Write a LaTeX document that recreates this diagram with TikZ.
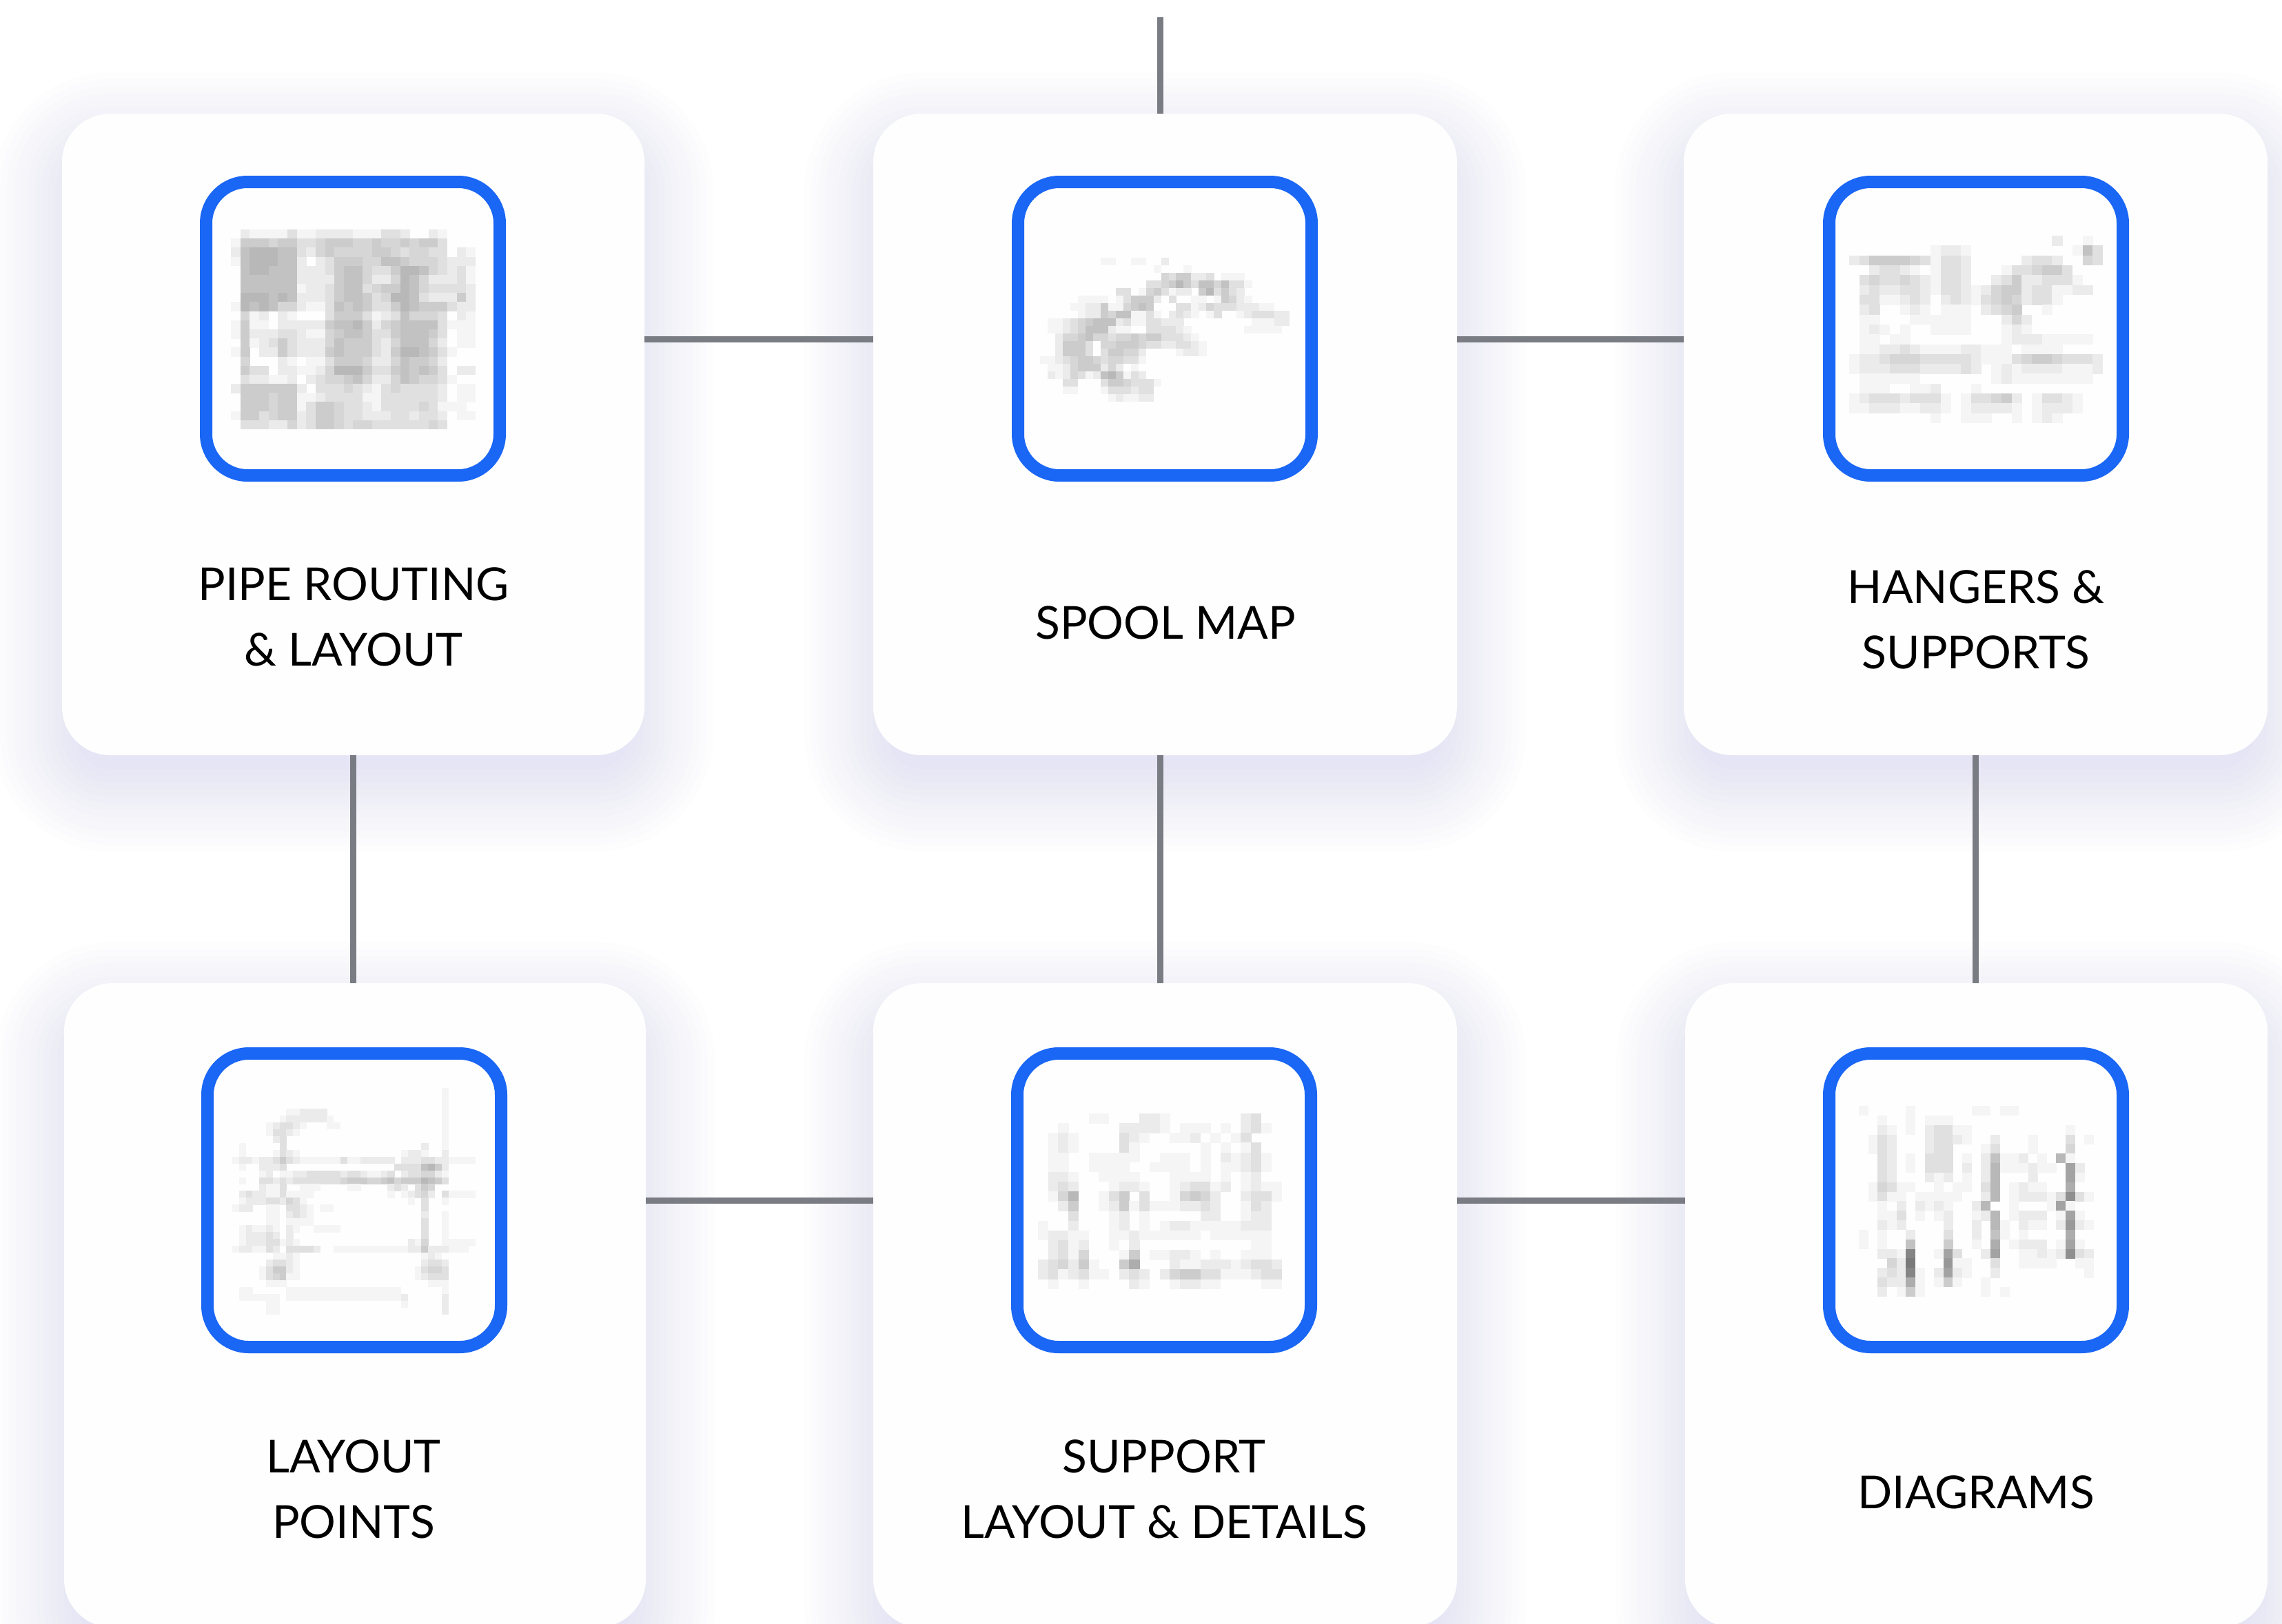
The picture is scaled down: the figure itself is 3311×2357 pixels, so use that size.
\documentclass[tikz,border=0pt]{standalone}
\usepackage{fontspec}
\setmainfont{Lato}
\usetikzlibrary{calc}
\definecolor{cardfill}{HTML}{FEFEFE}
\definecolor{iconblue}{HTML}{1A66F5}
\definecolor{linegray}{HTML}{7A7C84}
\tikzset{
  cardbox/.style={shape=rectangle,fill=cardfill,draw=none,rounded corners=35pt,inner sep=0pt,outer sep=0pt},
  iconbox/.style={shape=rectangle,draw=iconblue,line width=9pt,rounded corners=30pt,inner sep=0pt,outer sep=0pt,minimum width=213pt,minimum height=213pt},
  conn/.style={draw=linegray,line width=4.5pt},
  lbl/.style={align=center,inner sep=0pt,text=black,font=\fontsize{33}{47.5}\selectfont}
}
\newcount\tbx
\def\tbcell#1{\ifx#1;\else
  \ifnum"#1>0 \fill[black!\the\numexpr"#1*4\relax] ({\tbxo+\the\tbx*\tbcw},{\tbyo+\tbj*\tbch}) rectangle ({\tbxo+(\the\tbx+1)*\tbcw+0.4},{\tbyo+(\tbj+1)*\tbch+0.4});\fi
  \advance\tbx by 1 \expandafter\tbcell\fi}
\def\thumbgrid#1#2#3#4#5{\def\tbxo{#1}\def\tbyo{#2}\def\tbcw{#3}\def\tbch{#4}%
  \foreach \rowstr [count=\tbj from 0] in {#5}{\tbx=0 \expandafter\tbcell\rowstr;}}
\def\softshadow#1#2#3#4{%
  \foreach \sha in {0,...,12}{%
    \pgfmathsetmacro\she{100-\sha*10}%
    \pgfmathsetmacro\shr{max(5,(70+\she)/2)}%
    \fill[iconblue,opacity=0.008,rounded corners=\shr pt] ({#1-\she},{#2-\she+40}) rectangle ({#3+\she},{#4+\she+40});}}
\begin{document}
\begin{tikzpicture}[x=0.5pt,y=-0.5pt]
\clip (0,0) rectangle (3311,2357);
\fill[white] (0,0) rectangle (3311,2357);
% shadows
\softshadow{90}{165}{935}{1096}
\softshadow{1267}{165}{2114}{1096}
\softshadow{2443}{165}{3290}{1096}
\softshadow{93}{1427}{937}{2362}
\softshadow{1267}{1427}{2114}{2362}
\softshadow{2445}{1427}{3290}{2362}
% cards
\node[cardbox,minimum width=422.5pt,minimum height=465.5pt] (c1) at (512.5,630.5) {};
\node[cardbox,minimum width=423.5pt,minimum height=465.5pt] (c2) at (1690.5,630.5) {};
\node[cardbox,minimum width=423.5pt,minimum height=465.5pt] (c3) at (2866.5,630.5) {};
\node[cardbox,minimum width=422pt,minimum height=467.5pt] (c4) at (515,1894.5) {};
\node[cardbox,minimum width=423.5pt,minimum height=467.5pt] (c5) at (1690.5,1894.5) {};
\node[cardbox,minimum width=422.5pt,minimum height=467.5pt] (c6) at (2867.5,1894.5) {};
% connectors
\coordinate (top) at (1683,25);
\coordinate (r1) at (0,492);
\coordinate (r2) at (0,1742);
\coordinate (v2) at (1683,0);
\draw[conn] (top) -- (top |- c2.north);
\draw[conn] (c1.east |- r1) -- (c2.west |- r1);
\draw[conn] (c2.east |- r1) -- (c3.west |- r1);
\draw[conn] (c4.east |- r2) -- (c5.west |- r2);
\draw[conn] (c5.east |- r2) -- (c6.west |- r2);
\draw[conn] (c1.south) -- (c1.south |- c4.north);
\draw[conn] (v2 |- c2.south) -- (v2 |- c5.north);
\draw[conn] (c3.south) -- (c3.south |- c6.north);
% icons
\node[iconbox] (i1) at (512,477) {};
\node[iconbox] (i2) at (1690,477) {};
\node[iconbox] (i3) at (2867,477) {};
\node[iconbox] (i4) at (514,1742) {};
\node[iconbox] (i5) at (1689,1742) {};
\node[iconbox] (i6) at (2867,1742) {};
% thumbnails
\thumbgrid{335}{333}{13.65}{13.18}{%
02111131122221113320021000,%
15554553345554454454553000,%
26777663245444455434433021,%
16777662023555446654443222,%
06776662223566433577643231,%
06666662222566422476422231,%
06666661223566345576433332,%
07776762223566534776322252,%
17676442113656533576555322,%
04120210003555312364443021,%
15110222225667524566663111,%
15222332114566533566653011,%
05123532224655532466642011,%
15022532225655532577653100,%
04000210113555422465542000,%
05330221124777533565653022,%
03221120234456422465443100,%
25555552033343213433332011,%
05554551123333113333332011,%
05554551355433213333431110,%
15534552355433222332332011,%
03332242355434433333343000}
\thumbgrid{1509}{374}{10.97}{11}{%
000000001100110020000000000000000,%
000000000000000100010000000000000,%
000000000000000043552230111000000,%
000000000000003345753664633100000,%
000000000033014531220573532000000,%
000001111013555203001101542100000,%
000011225114565000331243332221100,%
000001225466113102321013001233322,%
011234566623113322200000000011122,%
011234666211003333210000000111110,%
002445644344545533321000000000000,%
002555304455543322332100000000000,%
002555303554420000122100000000000,%
112345543443310000000000000000000,%
011245552420100000000000000000000,%
021243126751320000000000000000000,%
000330003554333100000000000000000,%
000110001333233000000000000000000,%
000000000121122000000000000000000}
\thumbgrid{2683}{342}{14.72}{14.32}{%
0000000000000000000020010,%
0000000012210000000000163,%
2355554313320000023320043,%
0023321013320001334553000,%
0343343213320023522333100,%
0232233213321245523311220,%
0331123202321345423310000,%
0230012101110234500100000,%
0110001111110002420000000,%
0121010011110001210000000,%
0110110000000001222111110,%
0112232111122111011110000,%
1223444333332111345543332,%
1222333222232012122221112,%
0111111000000012111111110,%
0111001120001000000000000,%
1233323331013345201332100,%
1122211221012222101222100,%
0000000010011100101210000}
\thumbgrid{337}{1579}{9.8}{9.96}{%
000000000000000000000000000000010000,%
000000000000000000000000000000010000,%
000000000000000000000000000000010000,%
000000001122220000000000000000010000,%
000000012222221000000000000000010000,%
000001233210001100000000000000010000,%
000001332100000000000000000000010000,%
000000230000000000000000000000010000,%
010000030000000000000000000020010000,%
010000132100000000000000012210020000,%
122122353211111131122222022233221111,%
010022230000000000000000333367520000,%
000012011223333323321123023344210000,%
010033232333333345554456455576530000,%
000021130011100001100002320354000000,%
023221131111000000000001012342031111,%
012223324310000000000000001030010000,%
122001103321011000000000000030000000,%
000001102321000000000000000020010000,%
000001101111000000000000000030010000,%
012112102100111100000000000030010000,%
012223202000000000000000000030010000,%
012223312100000000000000002140011111,%
122113203333200111111111112252221110,%
000000112100000000000000000012100000,%
000002332100000000000000000023320000,%
000013552100000000000000000134430000,%
000013451100000000000000000123330000,%
000001110000000000000000000001110000,%
011000001111111111111111100000010000,%
011111101111111111111111120000020000,%
000001100000000000000000010000020000,%
000001100000000000000000000000020000}
\thumbgrid{1506}{1616}{14.72}{14.15}{%
0000011000221000000023000,%
0010000022221011101023100,%
0121000032100112010130000,%
0121000031000000101013000,%
0110011111001110102123100,%
0110011110011110101123100,%
0221001111000111101012000,%
0232000122100123312012110,%
0147001350300145420023310,%
0025001251311122320013200,%
0003000120100000220012200,%
1002000120101221111122200,%
1221100112111111011111100,%
0231200102000000000001100,%
0231400015011221010011100,%
2342510058000211222123320,%
2312311023202455331112330,%
0100100002100122110000110}
\thumbgrid{2697}{1605}{13.64}{13.84}{%
1000010000001101100000000,%
0010010111000000000000000,%
0021010233110000000000100,%
0132000233210020001000301,%
0132000233000130001000400,%
0032010333010261120107100,%
0032010333020271112110920,%
0032000212010270002000910,%
0143110010110370121100800,%
0131101111100270122213B31,%
0010202121002700100019100,%
0011301012001270122201910,%
0021200002002071021102A21,%
1010020003002061010000800,%
1010060005001080122201910,%
002 2 1C0019300290011212B32,%
0004 2D000A11003001111001 1,%
0023 2C102921002000000000 10,%
0032 2810151001000000000000,%
0020151000000101000000000}
% labels
\node[lbl] (t1) at (513,895) {PIPE ROUTING\\\& LAYOUT};
\node[lbl] (t2) at (1691,904) {SPOOL MAP};
\node[lbl] (t3) at (2867,899) {HANGERS \&\\SUPPORTS};
\node[lbl] (t4) at (513,2161) {LAYOUT\\POINTS};
\node[lbl] (t5) at (1689,2161) {SUPPORT\\LAYOUT \& DETAILS};
\node[lbl] (t6) at (2867,2166) {DIAGRAMS};
\end{tikzpicture}
\end{document}
